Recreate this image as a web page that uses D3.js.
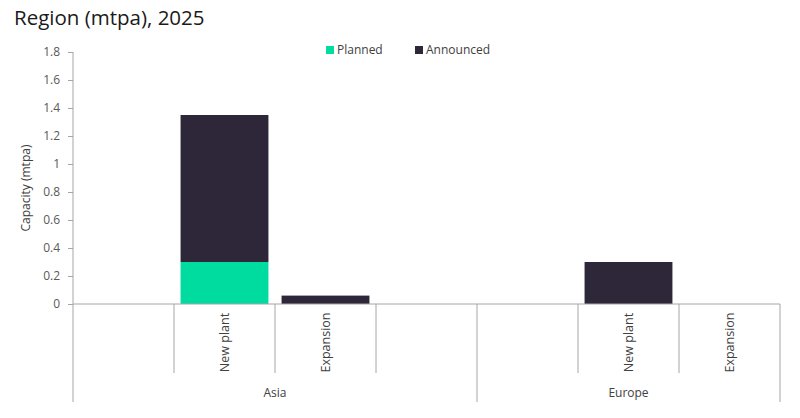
<!DOCTYPE html>
<html>
<head>
<meta charset="utf-8">
<script src="https://cdn.jsdelivr.net/npm/d3@7"></script>
<style>
  body { margin: 0; background: #fff; }
  svg { font-family: "Open Sans", "Noto Sans", sans-serif; }
</style>
</head>
<body>
<div id="chart"></div>
<script>
// Data
const categories = ["", "New plant", "Expansion", "", "", "New plant", "Expansion"];
const regions    = ["Asia", "Asia", "Asia", "Asia", "Europe", "Europe", "Europe"];
const planned    = [0, 0.3, 0, 0, 0, 0, 0];
const announced  = [0, 1.05, 0.06, 0, 0, 0.3, 0];
const seriesNames = ["Planned", "Announced"];
const yTicks = [0, 0.2, 0.4, 0.6, 0.8, 1, 1.2, 1.4, 1.6, 1.8];

const W = 800, H = 418;
const margin = { left: 73, right: 20, top: 52, bottom: 114 };
const colors = { Planned: "#00dba0", Announced: "#2e2639" };
const axisColor = "#a6a6a6";
const textColor = "#595959";

const svg = d3.select("#chart").append("svg")
    .attr("width", W).attr("height", H);

// title
svg.append("text")
    .attr("x", 14).attr("y", 25)
    .attr("font-size", 20.5)
    .attr("fill", "#1a1a1a")
    .text("Region (mtpa), 2025");

const idx = d3.range(categories.length);
const x = d3.scaleBand().domain(idx).range([margin.left, 780]).padding(0);
const y = d3.scaleLinear().domain([0, 1.8]).range([H - margin.bottom, margin.top]);

// stacked series
const rows = idx.map(i => ({ i, Planned: planned[i], Announced: announced[i] }));
const stacked = d3.stack().keys(seriesNames)(rows);

const barPad = x.bandwidth() * 0.065;
svg.append("g").selectAll("g")
    .data(stacked)
    .join("g")
    .attr("fill", s => colors[s.key])
    .selectAll("rect")
    .data(s => s.filter(d => d[1] - d[0] > 0))
    .join("rect")
    .attr("x", d => x(d.data.i) + barPad)
    .attr("width", x.bandwidth() - 2 * barPad)
    .attr("y", d => y(d[1]))
    .attr("height", d => y(d[0]) - y(d[1]));

// y axis
const yAxis = svg.append("g")
    .attr("transform", `translate(${margin.left},0)`)
    .call(d3.axisLeft(y).tickValues(yTicks).tickSize(5).tickPadding(8).tickFormat(d3.format("~g")));
yAxis.select(".domain").remove();
yAxis.selectAll(".tick line").attr("stroke", axisColor);
yAxis.selectAll(".tick text").attr("fill", textColor).attr("font-size", 12).attr("font-family", "Open Sans, sans-serif");

svg.append("text")
    .attr("transform", `translate(30,${(y(0) + y(1.8)) / 2 + 10}) rotate(-90)`)
    .attr("text-anchor", "middle")
    .attr("font-size", 12)
    .attr("fill", "#404040")
    .text("Capacity (mtpa)");

// axis lines
const y0 = y(0);
const lines = svg.append("g").attr("stroke", axisColor).attr("stroke-width", 1);
lines.append("line").attr("x1", margin.left).attr("x2", margin.left).attr("y1", y(1.8)).attr("y2", 402);
lines.append("line").attr("x1", margin.left).attr("x2", 780).attr("y1", y0).attr("y2", y0);

// group boundaries
const groupNames = Array.from(new Set(regions));
const groupSpans = groupNames.map(g => {
    const ids = idx.filter(i => regions[i] === g);
    return { name: g, x0: x(ids[0]), x1: x(ids[ids.length - 1]) + x.bandwidth() };
});

// category separators (short) and group separators (long)
idx.forEach(i => {
    const xr = x(i) + x.bandwidth();
    const isGroupEnd = i === idx.length - 1 || regions[i + 1] !== regions[i];
    lines.append("line").attr("x1", xr).attr("x2", xr).attr("y1", y0).attr("y2", isGroupEnd ? 402 : 373);
});

// category labels
svg.append("g").selectAll("text")
    .data(idx.filter(i => categories[i] !== ""))
    .join("text")
    .attr("transform", i => `translate(${x(i) + x.bandwidth() / 2 + 4},${(y0 + 373) / 2 + 4}) rotate(-90)`)
    .attr("text-anchor", "middle")
    .attr("font-size", 12.5)
    .attr("fill", "#404040")
    .text(i => categories[i]);

// region labels
svg.append("g").selectAll("text")
    .data(groupSpans)
    .join("text")
    .attr("x", d => (d.x0 + d.x1) / 2)
    .attr("y", 397)
    .attr("text-anchor", "middle")
    .attr("font-size", 12)
    .attr("fill", "#404040")
    .text(d => d.name);

// legend
const legendX = [326, 415];
const legend = svg.append("g").selectAll("g")
    .data(seriesNames)
    .join("g")
    .attr("transform", (d, i) => `translate(${legendX[i]},46)`);
legend.append("rect").attr("width", 8).attr("height", 8).attr("fill", d => colors[d]);
legend.append("text").attr("x", 11).attr("y", 8).attr("font-size", 12).attr("fill", "#404040").text(d => d);
</script>
</body>
</html>
